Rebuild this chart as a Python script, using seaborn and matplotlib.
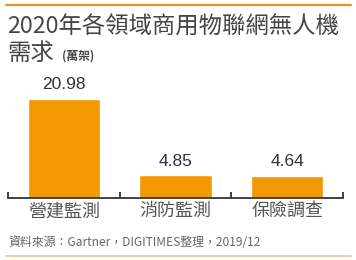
import matplotlib
matplotlib.use("Agg")
import matplotlib.pyplot as plt
import seaborn as sns
import pandas as pd
from matplotlib.lines import Line2D

categories = ["營建監測", "消防監測", "保險調查"]
values = [20.98, 4.85, 4.64]
value_labels = ["20.98", "4.85", "4.64"]
title_line1 = "2020年各領域商用物聯網無人機"
title_line2 = "需求"
unit = "(萬架)"
source = "資料來源：Gartner，DIGITIMES整理，2019/12"

sns.set_theme(style="white")
plt.rcParams['font.family'] = ['Noto Sans CJK TC', 'DejaVu Sans']

df = pd.DataFrame({"cat": categories, "val": values})

fig = plt.figure(figsize=(3.56, 2.60), dpi=100)
ax = fig.add_axes([8/356, 62/260, 335/356, 118/260])
sns.barplot(data=df, x="cat", y="val", color="#F39800", width=0.65,
            saturation=1, ax=ax)
ax.set_xlim(-0.5, 2.5)
ax.set_ylim(0, 25)
ax.set_xlabel("")
ax.set_ylabel("")
ax.set_yticks([])
for s in ["top", "left", "right"]:
    ax.spines[s].set_visible(False)
ax.spines["bottom"].set_color("#333333")
ax.spines["bottom"].set_linewidth(1.3)
ax.set_xticks(range(len(categories)))
ax.set_xticklabels(categories, fontsize=13, color="#555555")
ax.tick_params(axis="x", which="major", length=0, pad=3)
ax.set_xticks([-0.5, 0.5, 1.5, 2.5], minor=True)
ax.tick_params(axis="x", which="minor", direction="in", length=4,
               width=1.3, color="#333333", bottom=True)

for i, (v, lab) in enumerate(zip(values, value_labels)):
    ax.text(i, v + 1.4, lab, ha="center", va="bottom", fontsize=12.5,
            color="#333333", family=['Liberation Sans', 'DejaVu Sans'])

fig.text(7/356, 1 - 27/260, title_line1, ha="left", va="center",
         fontsize=16.8, color="#454545", fontweight="medium")
fig.text(7/356, 1 - 53/260, title_line2, ha="left", va="center",
         fontsize=16.8, color="#454545", fontweight="medium")
fig.text(62/356, 1 - 56/260, unit, ha="left", va="center",
         fontsize=8.5, color="#454545", fontweight="bold")
fig.text(8/356, 1 - 242/260, source, ha="left", va="center",
         fontsize=8.6, color="#666666", fontweight="light")

fig.add_artist(Line2D([6/356, 351/356], [1 - 5/260, 1 - 5/260],
                      color="#EA8E30", linewidth=1.6, transform=fig.transFigure))
fig.add_artist(Line2D([6/356, 351/356], [1 - 256/260, 1 - 256/260],
                      color="#F1C58E", linewidth=1.2, transform=fig.transFigure))

fig.savefig("out.png", dpi=100)
